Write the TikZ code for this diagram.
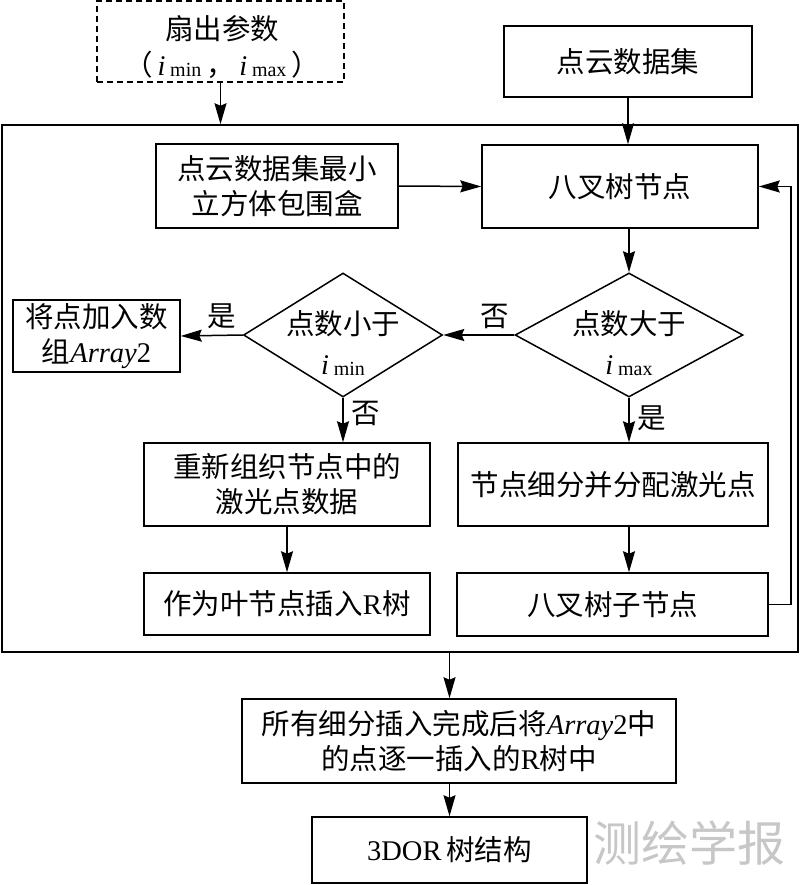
\documentclass[tikz,border=0pt]{standalone}
\usepackage{fontspec}
\setmainfont{Noto Sans CJK SC}
\newfontfamily\lat{Liberation Serif}
\usetikzlibrary{shapes.geometric,arrows.meta}
\newcommand\fs{\fontsize{28.5}{35}\selectfont}
\newcommand\ii{{\lat\itshape i}}
\newcommand\subtx[1]{\raisebox{-1pt}{\lat\fontsize{20}{20}\selectfont #1}}
\newcommand\arr{{\lat\itshape Array}{\lat 2}}
\tikzset{
  box/.style={draw, line width=1.5pt, inner sep=0pt, align=center, font=\fs},
  dia/.style={draw, diamond, line width=1.5pt, inner sep=0pt},
  txt/.style={inner sep=0pt, align=center, font=\fs},
  arrow/.style={-{Stealth[length=21pt,width=12pt,inset=2.5pt]}, line width=1.5pt},
  lbl/.style={inner sep=0pt, font=\fs}
}
\begin{document}
\begin{tikzpicture}[x=1pt,y=-1pt]
\useasboundingbox (0,0) rectangle (800,885);
% frame
\node[draw, line width=1.5pt, minimum width=796pt, minimum height=527pt, inner sep=0pt] (frame) at (400,388.5) {};
% boxes
\node[box, dashed, dash pattern=on 6pt off 4pt, minimum width=247pt, minimum height=81pt] (fan) at (220.5,41.5) {};
\node[txt, font=\fontsize{28.5}{36}\selectfont] (fant) at (222,47)
  {扇出参数\\（\,\ii\,\subtx{min}\,，\,\ii\,\subtx{max}\,）};
\node[box, minimum width=248pt, minimum height=71pt] (pcd) at (628,61.5) {点云数据集};
\node[box, minimum width=242pt, minimum height=84pt] (bbox) at (277,186) {点云数据集最小\\立方体包围盒};
\node[box, minimum width=276pt, minimum height=83pt] (oct) at (620,186.5) {八叉树节点};
\node[dia, minimum width=228pt, minimum height=124pt] (d1) at (629,335) {};
\node[txt, font=\fontsize{28.5}{40}\selectfont] (d1t) at (629,343) {点数大于\\\ii\,\subtx{max}};
\node[dia, minimum width=199pt, minimum height=124pt] (d2) at (343,335) {};
\node[txt, font=\fontsize{28.5}{40}\selectfont] (d2t) at (343,343) {点数小于\\\ii\,\subtx{min}};
\node[box, minimum width=167pt, minimum height=72pt] (add) at (96.5,336) {将点加入数\\组\arr};
\node[box, minimum width=286pt, minimum height=83pt] (reorg) at (287,484.5) {重新组织节点中的\\激光点数据};
\node[box, minimum width=310pt, minimum height=83pt] (split) at (613,484.5) {节点细分并分配激光点};
\node[box, minimum width=286pt, minimum height=62pt] (leaf) at (287,604) {作为叶节点插入{\lat R}树};
\node[box, minimum width=311pt, minimum height=63pt] (child) at (612.5,604.5) {八叉树子节点};
\node[box, minimum width=434pt, minimum height=84pt] (all) at (459,741) {所有细分插入完成后将\arr 中\\的点逐一插入的{\lat R}树中};
\node[box, minimum width=275pt, minimum height=66pt] (dor) at (449.5,850) {{\lat 3DOR\,}树结构};
% labels
\node[lbl] (yes1) at (222,316) {是};
\node[lbl] (no1) at (495,316) {否};
\node[lbl] (no2) at (366,413) {否};
\node[lbl] (yes2) at (652,418) {是};
% watermark
\node[inner sep=0pt, text=black!22, font=\fontsize{48}{48}\selectfont] (wm) at (689,843) {测绘学报};
% connectors
\draw[arrow] (fan.south) -- (fan.south |- frame.north);
\draw[arrow] (pcd.south) -- (pcd.south |- oct.north);
\draw[arrow] (bbox.east) -- (oct.west);
\draw[arrow] (d1.north |- oct.south) -- (d1.north);
\draw[arrow] (d1.west) -- (d2.east);
\draw[arrow] (d2.west) -- (add.east);
\draw[arrow] (d2.south) -- (d2.south |- reorg.north);
\draw[arrow] (d1.south) -- (d1.south |- split.north);
\draw[arrow] (reorg.south) -- (leaf.north);
\draw[arrow] (d1.south |- split.south) -- (d1.south |- child.north);
\draw[arrow] (child.east) -- ++(22,0) |- (oct.east);
\draw[arrow] (dor.north |- frame.south) -- (dor.north |- all.north);
\draw[arrow] (dor.north |- all.south) -- (dor.north);
\end{tikzpicture}
\end{document}
